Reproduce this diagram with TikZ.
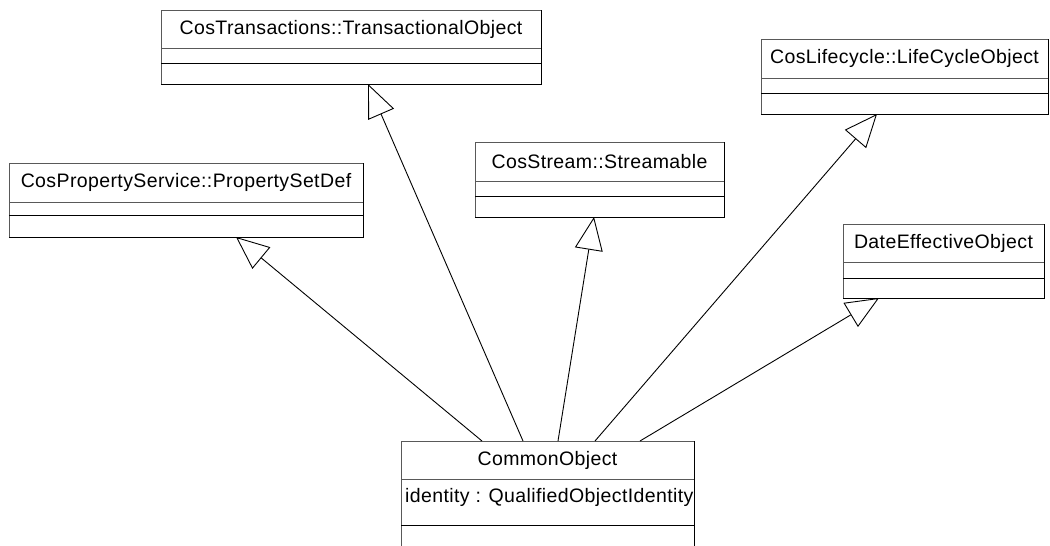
\documentclass[tikz,border=0pt]{standalone}
\usepackage{fontspec}
\setmainfont{Liberation Sans}[LetterSpace=2]
\usetikzlibrary{arrows.meta}

% class box: name, left, top, right, bottom, first rule, second rule, title
\newcommand\umlclass[8]{%
  \pgfmathsetmacro\boxw{#4-#2}%
  \pgfmathsetmacro\boxh{#5-#3}%
  \node[classbox, minimum width=\boxw pt, minimum height=\boxh pt] (#1) at (#2,#3) {};
  \draw[softrule] (#2,#6) -- (#4,#6);
  \draw[hardrule] (#2,#7) -- (#4,#7);
  \draw[hardrule] (#1.south west) -- (#1.south east) -- (#1.north east);
  \node[classname] (#1-name) at ({(#2+#4)/2},{(#3+#6)/2}) {#8};
}

\tikzset{
  x=1pt, y=-1pt,
  classbox/.style={draw=gray!70!black, line width=0.8pt, fill=white,
    anchor=north west, inner sep=0pt, outer sep=0pt},
  classname/.style={font=\fontsize{19.5}{22}\selectfont, inner sep=0pt},
  attrtext/.style={font=\fontsize{19.5}{22}\selectfont, inner sep=0pt, anchor=west},
  softrule/.style={draw=gray!70!black, line width=0.8pt},
  hardrule/.style={draw=black, line width=1pt},
  inherits/.style={draw=black, line width=0.9pt,
    -{Triangle[open, length=33pt, width=28pt]}},
}

\begin{document}
\begin{tikzpicture}
\useasboundingbox (0,0) rectangle (1050,546);
\clip (0,0) rectangle (1050,546);
\fill[white] (0,0) rectangle (1050,546);

% parent classes
\umlclass{trans}{161}{10}{541}{84}{48}{63}{CosTransactions::TransactionalObject}
\umlclass{life}{761}{39}{1048}{114}{78}{93}{CosLifecycle::LifeCycleObject}
\umlclass{psd}{9}{163}{363}{237}{202}{215}{CosPropertyService::PropertySetDef}
\umlclass{stream}{475}{142}{724}{217}{181}{196}{CosStream::Streamable}
\umlclass{date}{843}{224}{1044}{298}{262}{278}{DateEffectiveObject}

% derived class, running past the lower edge
\umlclass{common}{401}{441}{694}{560}{479}{525}{CommonObject}
\node[attrtext] (common-attr) at (405,497) {identity : QualifiedObjectIdentity};

% generalisation arrows
\draw[inherits] ([xshift=81pt]common.north west) -- ([xshift=227pt]psd.south west);
\draw[inherits] ([xshift=122pt]common.north west) -- ([xshift=207pt]trans.south west);
\draw[inherits] ([xshift=157pt]common.north west) -- ([xshift=119pt]stream.south west);
\draw[inherits] ([xshift=194pt]common.north west) -- ([xshift=116pt]life.south west);
\draw[inherits] ([xshift=239pt]common.north west) -- ([xshift=36pt]date.south west);
\end{tikzpicture}
\end{document}
